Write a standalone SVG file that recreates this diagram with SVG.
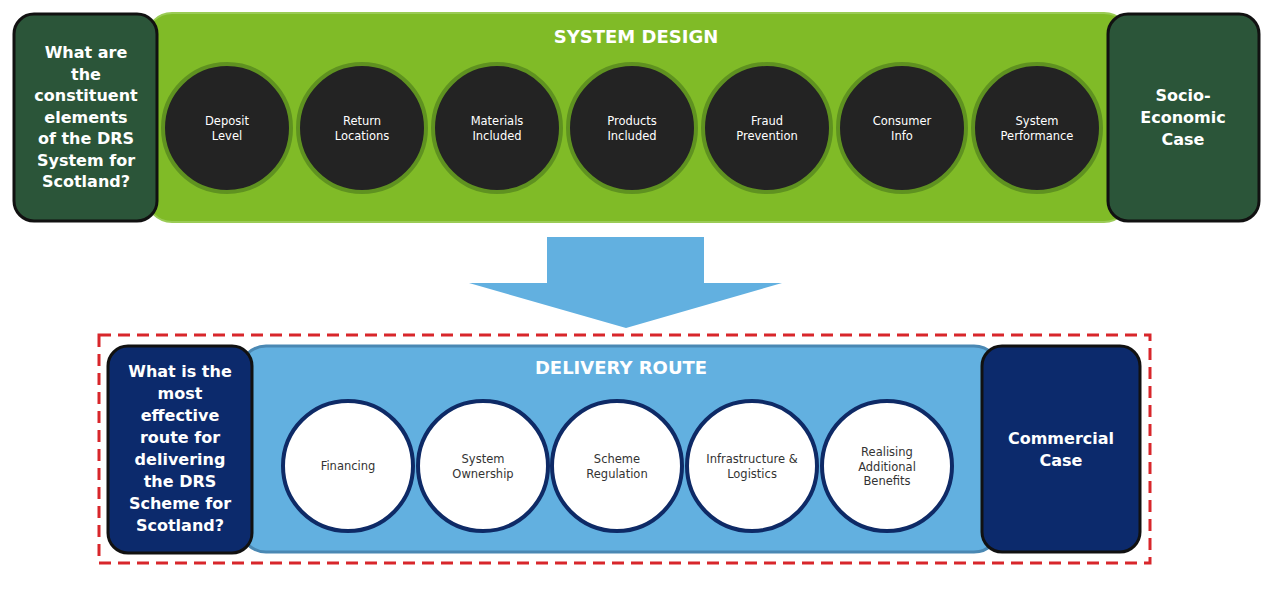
<svg xmlns="http://www.w3.org/2000/svg" width="1280" height="596" viewBox="0 0 1280 596">
<defs>
<style>
.band-g{fill:#80bb27;stroke:#9acb55;stroke-width:2}
.box-g{fill:#2b5539;stroke:#111;stroke-width:3}
.band-b{fill:#62b0e0;stroke:#4a88b3;stroke-width:3}
.box-b{fill:#0c2a6c;stroke:#111;stroke-width:3}
.c-dark{fill:#232323;stroke:#5f9220;stroke-width:4}
.c-white{fill:#ffffff;stroke:#0e2a66;stroke-width:4}
.q{font-family:"DejaVu Sans",Verdana,sans-serif;font-weight:bold;font-size:16px;fill:#ffffff;text-anchor:middle}
.title{font-family:"DejaVu Sans",Verdana,sans-serif;font-weight:bold;font-size:18px;fill:#ffffff;text-anchor:middle}
.lw{font-family:"DejaVu Sans",Tahoma,sans-serif;font-size:11.5px;fill:#ffffff;text-anchor:middle}
.ld{font-family:"DejaVu Sans",Tahoma,sans-serif;font-size:11.5px;fill:#333333;text-anchor:middle}
</style>
</defs>
<rect width="1280" height="596" fill="#ffffff"/>

<g id="system-design">
<rect class="band-g" x="146" y="13" width="984" height="209" rx="26"/>
<text class="title" x="636" y="43">SYSTEM DESIGN</text>
</g>
<g id="q-top">
<rect class="box-g" x="14" y="14" width="143" height="207" rx="20"/>
<text class="q" x="86" y="58">What are</text>
<text class="q" x="86" y="79.5">the</text>
<text class="q" x="86" y="101">constituent</text>
<text class="q" x="86" y="122.5">elements</text>
<text class="q" x="86" y="144">of the DRS</text>
<text class="q" x="86" y="165.5">System for</text>
<text class="q" x="86" y="187">Scotland?</text>
</g>
<g id="socio-economic">
<rect class="box-g" x="1108" y="14" width="151" height="207" rx="20"/>
<text class="q" x="1183" y="101">Socio-</text>
<text class="q" x="1183" y="123">Economic</text>
<text class="q" x="1183" y="145">Case</text>
</g>

<g id="deposit-level"><circle class="c-dark" cx="227" cy="128" r="64"/><text class="lw" x="227" y="125">Deposit</text><text class="lw" x="227" y="140">Level</text></g>
<g id="return-locations"><circle class="c-dark" cx="362" cy="128" r="64"/><text class="lw" x="362" y="125">Return</text><text class="lw" x="362" y="140">Locations</text></g>
<g id="materials-included"><circle class="c-dark" cx="497" cy="128" r="64"/><text class="lw" x="497" y="125">Materials</text><text class="lw" x="497" y="140">Included</text></g>
<g id="products-included"><circle class="c-dark" cx="632" cy="128" r="64"/><text class="lw" x="632" y="125">Products</text><text class="lw" x="632" y="140">Included</text></g>
<g id="fraud-prevention"><circle class="c-dark" cx="767" cy="128" r="64"/><text class="lw" x="767" y="125">Fraud</text><text class="lw" x="767" y="140">Prevention</text></g>
<g id="consumer-info"><circle class="c-dark" cx="902" cy="128" r="64"/><text class="lw" x="902" y="125">Consumer</text><text class="lw" x="902" y="140">Info</text></g>
<g id="system-performance"><circle class="c-dark" cx="1037" cy="128" r="64"/><text class="lw" x="1037" y="125">System</text><text class="lw" x="1037" y="140">Performance</text></g>

<g id="connectors">
<polygon points="547,237 704,237 704,283 782,283 626,328 469,283 547,283" fill="#62b0e0"/>
</g>

<g id="delivery-frame">
<rect x="99" y="335" width="1051" height="228" fill="none" stroke="#d8262b" stroke-width="3" stroke-dasharray="12,7"/>
</g>

<g id="delivery-route">
<rect class="band-b" x="240" y="346" width="760" height="206" rx="26"/>
<text class="title" x="621" y="374">DELIVERY ROUTE</text>
</g>
<g id="q-bottom">
<rect class="box-b" x="108" y="346" width="144" height="207" rx="20"/>
<text class="q" x="180" y="377">What is the</text>
<text class="q" x="180" y="399">most</text>
<text class="q" x="180" y="421">effective</text>
<text class="q" x="180" y="443">route for</text>
<text class="q" x="180" y="465">delivering</text>
<text class="q" x="180" y="487">the DRS</text>
<text class="q" x="180" y="509">Scheme for</text>
<text class="q" x="180" y="531">Scotland?</text>
</g>
<g id="commercial-case">
<rect class="box-b" x="982" y="346" width="158" height="206" rx="20"/>
<text class="q" x="1061" y="444">Commercial</text>
<text class="q" x="1061" y="466">Case</text>
</g>

<g id="financing"><circle class="c-white" cx="348" cy="466" r="65"/><text class="ld" x="348" y="470">Financing</text></g>
<g id="system-ownership"><circle class="c-white" cx="483" cy="466" r="65"/><text class="ld" x="483" y="463">System</text><text class="ld" x="483" y="478">Ownership</text></g>
<g id="scheme-regulation"><circle class="c-white" cx="617" cy="466" r="65"/><text class="ld" x="617" y="463">Scheme</text><text class="ld" x="617" y="478">Regulation</text></g>
<g id="infrastructure-logistics"><circle class="c-white" cx="752" cy="466" r="65"/><text class="ld" x="752" y="463">Infrastructure &amp;</text><text class="ld" x="752" y="478">Logistics</text></g>
<g id="realising-benefits"><circle class="c-white" cx="887" cy="466" r="65"/><text class="ld" x="887" y="456">Realising</text><text class="ld" x="887" y="470.5">Additional</text><text class="ld" x="887" y="485">Benefits</text></g>
</svg>
